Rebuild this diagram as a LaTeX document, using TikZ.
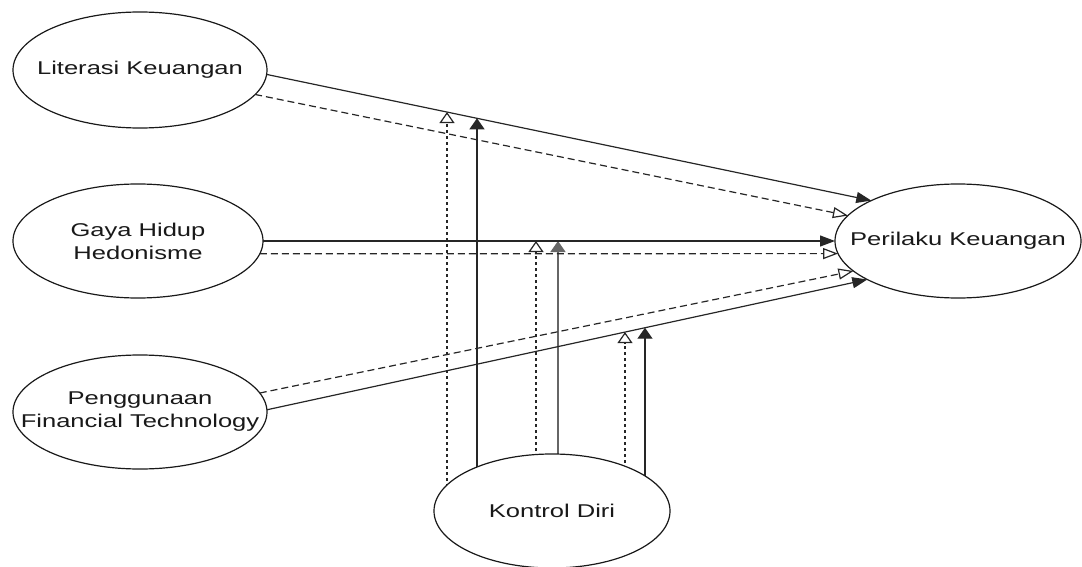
\documentclass[tikz,border=0pt]{standalone}
\usepackage{fontspec}
\setmainfont{Liberation Sans}[FakeStretch=1.38]
\usetikzlibrary{arrows.meta,shapes.geometric,intersections,calc}
\pgfdeclarelayer{bg}
\pgfsetlayers{bg,main}
\begin{document}
\begin{tikzpicture}[x=1pt,y=-1pt,
  var/.style={ellipse,draw=black!90,line width=1.2pt,fill=white,inner sep=0pt,outer sep=0pt,
    minimum width=250pt,minimum height=114pt},
  vartext/.style={align=center,font=\fontsize{18.5}{23}\selectfont,text=black!90,inner sep=0pt},
  mainline/.style={line width=1.2pt,draw=black!85},
  hs/.style={mainline,-{Triangle[length=15pt,width=11pt]}},
  ho/.style={mainline,dash pattern=on 7pt off 4pt,-{Triangle[open,length=15pt,width=11pt,fill=white]}},
  vs/.style={mainline,line width=1.4pt,-{Triangle[length=11pt,width=15pt]}},
  vo/.style={mainline,dash pattern=on 3pt off 3pt,-{Triangle[open,length=11pt,width=15pt,fill=white]}},
]
\useasboundingbox (0,0) rectangle (1082,567);
\node[var, minimum width=254pt, minimum height=116pt] (L) at (140,70) {};
\node[vartext] (Lt) at (L.center) {Literasi Keuangan};
\node[var] (G) at (138,241) {};
\node[vartext] (Gt) at (G.center) {Gaya Hidup\\Hedonisme};
\node[var, minimum width=254pt] (F) at (140,412) {};
\node[vartext] (Ft) at (F.center) {Penggunaan\\Financial Technology};
\node[var, minimum width=246pt] (P) at (958,241) {};
\node[vartext] (Pt) at (P.center) {Perilaku Keuangan};
\node[var, minimum width=236pt] (K) at (552,511) {};
\node[vartext] (Kt) at (K.center) {Kontrol Diri};

\draw[hs, name path=l1] (L.-2) -- (P.155.6);
\draw[ho] (L.-12) -- (P.167.3);
\draw[hs, name path=l2] (G.east) -- (P.west);
\draw[ho] (G.-6.6) -- (P.186.6);
\draw[ho] (F.9) -- (P.196);
\draw[hs, name path=l3] (F.1) -- (P.203.9);

\path[name path=v1] (447,0) -- (447,567);
\path[name path=v2] (477,0) -- (477,567);
\path[name path=v3] (536,0) -- (536,567);
\path[name path=v4] (558,0) -- (558,567);
\path[name path=v5] (625,0) -- (625,567);
\path[name path=v6] (645,0) -- (645,567);
\path[name intersections={of=l1 and v1,by=m1}];
\path[name intersections={of=l1 and v2,by=m2}];
\path[name intersections={of=l2 and v3,by=m3}];
\path[name intersections={of=l2 and v4,by=m4}];
\path[name intersections={of=l3 and v5,by=m5}];
\path[name intersections={of=l3 and v6,by=m6}];

\begin{pgfonlayer}{bg}
\draw[vo] (m1 |- K.center) -- (m1);
\draw[vs] (m2 |- K.center) -- (m2);
\draw[vo] (m3 |- K.center) -- (m3);
\draw[vs, draw=black!60] (m4 |- K.center) -- (m4);
\draw[vo] (m5 |- K.center) -- (m5);
\draw[vs] (m6 |- K.center) -- (m6);
\end{pgfonlayer}
\end{tikzpicture}
\end{document}
